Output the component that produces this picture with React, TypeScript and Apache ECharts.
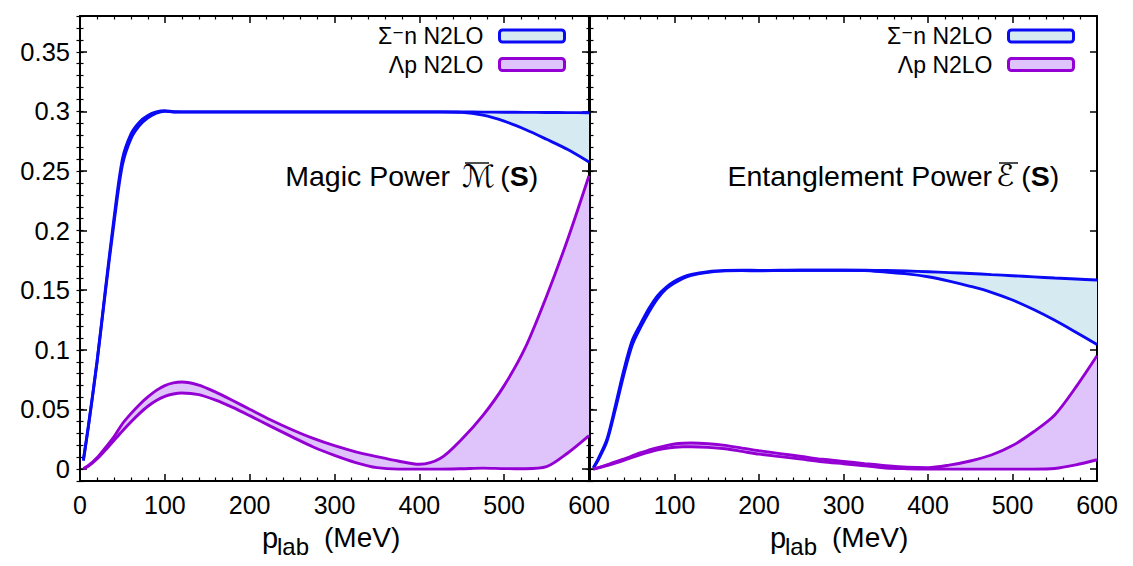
import React, { useEffect, useRef } from "react";
import * as echarts from "echarts";

const P_LAB = [4, 10, 20, 30, 40, 50, 60, 70, 80, 90, 100, 110, 120, 140, 160, 180, 200, 225, 250, 275, 300, 325, 350, 375, 400, 425, 450, 475, 500, 525, 550, 575, 600];

const SIGMA_MAGIC_LOW = [0.007, 0.036, 0.089, 0.149, 0.206, 0.255, 0.277, 0.288, 0.2945, 0.2985, 0.3, 0.2995, 0.2995, 0.2995, 0.2995, 0.2995, 0.2995, 0.2995, 0.2995, 0.2995, 0.2995, 0.2995, 0.2995, 0.2995, 0.2995, 0.2995, 0.2992, 0.2968, 0.2918, 0.2848, 0.2766, 0.268, 0.2575];
const SIGMA_MAGIC_HIGH = [0.008, 0.037, 0.09, 0.151, 0.21, 0.26, 0.281, 0.291, 0.2965, 0.2995, 0.3005, 0.2997, 0.2996, 0.2996, 0.2996, 0.2996, 0.2996, 0.2996, 0.2996, 0.2996, 0.2996, 0.2996, 0.2996, 0.2996, 0.2996, 0.2996, 0.2995, 0.2994, 0.2993, 0.2992, 0.2991, 0.299, 0.2988];

const LAMBDA_MAGIC_LOW = [0, 0.0025, 0.0085, 0.016, 0.024, 0.032, 0.0395, 0.0465, 0.0527, 0.0575, 0.061, 0.063, 0.0638, 0.0625, 0.0578, 0.0517, 0.0448, 0.0358, 0.027, 0.0185, 0.0115, 0.0055, 0.0012, 0, 0, 0, 0.0003, 0.0008, 0.0004, 0.0003, 0.002, 0.0135, 0.028];
const LAMBDA_MAGIC_HIGH = [0.0005, 0.003, 0.0095, 0.018, 0.027, 0.038, 0.0465, 0.054, 0.0605, 0.066, 0.07, 0.0723, 0.073, 0.0705, 0.0645, 0.0575, 0.0502, 0.0412, 0.033, 0.0257, 0.0196, 0.0145, 0.0105, 0.0068, 0.004, 0.009, 0.025, 0.045, 0.07, 0.102, 0.145, 0.193, 0.246];

const SIGMA_ENT_LOW = [0.001, 0.008, 0.023, 0.05, 0.079, 0.104, 0.119, 0.132, 0.143, 0.151, 0.156, 0.16, 0.1625, 0.165, 0.1662, 0.1665, 0.1663, 0.1665, 0.1667, 0.1667, 0.1667, 0.1666, 0.1652, 0.1637, 0.1613, 0.1577, 0.1533, 0.1483, 0.1418, 0.1338, 0.1248, 0.1148, 0.1045];
const SIGMA_ENT_HIGH = [0.001, 0.009, 0.025, 0.053, 0.083, 0.108, 0.122, 0.135, 0.1455, 0.1525, 0.1575, 0.161, 0.1633, 0.1655, 0.1665, 0.1668, 0.1666, 0.1667, 0.1668, 0.1668, 0.1668, 0.1667, 0.1665, 0.1661, 0.1655, 0.1648, 0.164, 0.1631, 0.1622, 0.1612, 0.1602, 0.1594, 0.1586];

const LAMBDA_ENT_LOW = [0, 0.001, 0.003, 0.005, 0.0072, 0.0098, 0.0122, 0.0143, 0.0162, 0.0175, 0.0183, 0.0187, 0.0187, 0.0182, 0.017, 0.0148, 0.0125, 0.0104, 0.0083, 0.0062, 0.0045, 0.0028, 0.0009, 0.0003, 0.0001, 0, 0, 0, 0, 0, 0.0005, 0.0035, 0.0078];
const LAMBDA_ENT_HIGH = [0, 0.0012, 0.0035, 0.006, 0.0083, 0.011, 0.0138, 0.016, 0.018, 0.0197, 0.021, 0.0217, 0.0219, 0.0213, 0.0199, 0.0176, 0.0154, 0.013, 0.0106, 0.0082, 0.0064, 0.0046, 0.0029, 0.0016, 0.0012, 0.0033, 0.0068, 0.0118, 0.0197, 0.0313, 0.0454, 0.0687, 0.095];

const Y_TICKS = [0, 0.05, 0.1, 0.15, 0.2, 0.25, 0.3, 0.35];
const X_TICK_STEP = 100;

const SIGMA_NAME = "Σ⁻n N2LO";
const LAMBDA_NAME = "Λp N2LO";

const FONT = '"Liberation Sans", Arial, Helvetica, "DejaVu Sans", sans-serif';
const BLUE = "#0a0af5";
const BLUE_FILL = "#d5ebf1";
const PURPLE = "#9400d3";
const PURPLE_FILL = "#dfc3fb";

// data rows are [value, p_lab]; encode maps column 1 to x so that stacking acts on y
function band(name: string, grid: number, low: number[], high: number[], stroke: string, fill: string, zBase: number) {
  const stack = `${name}-${grid}`;
  const common = {
    type: "line",
    name,
    xAxisIndex: grid * 2,
    yAxisIndex: grid * 4,
    stack,
    encode: { x: 1, y: 0 },
    symbol: "none",
    smooth: 0.3,
    lineStyle: { color: stroke, width: 2.9 },
    itemStyle: { color: stroke },
    emphasis: { disabled: true },
  };
  return [
    { ...common, z: zBase + 1, data: P_LAB.map((x, i) => [low[i], x]) },
    {
      ...common,
      z: zBase,
      data: P_LAB.map((x, i) => [Math.max(0, high[i] - low[i]), x]),
      areaStyle: { color: fill, opacity: 1 },
    },
  ];
}

function xAxes(grid: number) {
  const base = {
    gridIndex: grid,
    type: "value",
    min: 0,
    max: 600,
    interval: X_TICK_STEP,
    splitLine: { show: false },
    axisLine: { show: true, onZero: false, lineStyle: { color: "#000", width: 2 } },
    axisTick: { show: true, inside: true, length: 7, lineStyle: { color: "#000", width: 1.5 } },
    minorTick: { show: true, splitNumber: 5, length: 3.5, lineStyle: { color: "#000", width: 1.2 } },
  };
  return [
    {
      ...base,
      position: "bottom",
      axisLabel: {
        show: true,
        fontSize: 25,
        fontFamily: FONT,
        color: "#000",
        margin: 11,
        showMinLabel: grid === 0,
      },
    },
    { ...base, position: "top", axisLabel: { show: false } },
  ];
}

function yAxes(grid: number) {
  const base = {
    gridIndex: grid,
    type: "value",
    min: -0.01,
    max: 0.38,
    splitLine: { show: false },
  };
  const major = (pos: string, labels: boolean) => ({
    ...base,
    position: pos,
    axisLine: { show: true, onZero: false, lineStyle: { color: "#000", width: 2 } },
    axisTick: { show: true, inside: true, length: 7, customValues: Y_TICKS, lineStyle: { color: "#000", width: 1.5 } },
    axisLabel: {
      show: labels,
      customValues: Y_TICKS,
      fontSize: 25.5,
      fontFamily: FONT,
      color: "#000",
      margin: 10,
    },
  });
  const minor = (pos: string) => ({
    ...base,
    position: pos,
    interval: 0.01,
    axisLine: { show: false },
    axisTick: { show: true, inside: true, length: 3.5, lineStyle: { color: "#000", width: 1.2 } },
    axisLabel: { show: false },
  });
  return [major("left", grid === 0), minor("left"), major("right", false), minor("right")];
}

function legend(right: number) {
  return {
    orient: "vertical",
    right,
    top: 24.5,
    z: 20,
    padding: 0,
    align: "right",
    itemWidth: 65,
    itemHeight: 12,
    itemGap: 5.5,
    selectedMode: false,
    textStyle: { fontSize: 23, lineHeight: 22, fontFamily: FONT, color: "#000", padding: [0, 11, 0, 0] },
    data: [
      { name: SIGMA_NAME, icon: "roundRect", itemStyle: { color: BLUE_FILL, borderColor: BLUE, borderWidth: 3 } },
      { name: LAMBDA_NAME, icon: "roundRect", itemStyle: { color: PURPLE_FILL, borderColor: PURPLE, borderWidth: 3 } },
    ],
  };
}

function text(x: number, y: number, t: string, fontSize: number, align: string, extra: any = {}) {
  return {
    type: "text",
    x,
    y,
    silent: true,
    z: 100,
    style: {
      text: t,
      fill: "#000",
      fontSize,
      fontFamily: FONT,
      textAlign: align,
      textVerticalAlign: "middle",
      ...extra,
    },
  };
}

function overline(x1: number, x2: number, y: number) {
  return {
    type: "line",
    silent: true,
    z: 100,
    shape: { x1, y1: y, x2, y2: y },
    style: { stroke: "#000", lineWidth: 1.4 },
  };
}

function axisName(left: number) {
  return [
    text(left, 537.6, "p", 29, "left"),
    text(left + 15, 546.5, "lab", 24, "left"),
    text(left + 62, 537.6, "(MeV)", 28, "left"),
  ];
}

const SCRIPT_FONT = '"DejaVu Sans", serif';
const richTitle = {
  c: { fontFamily: SCRIPT_FONT, fontStyle: "italic", fontSize: 31, fill: "#000", padding: [0, 5, 0, 1] },
  e: { fontFamily: SCRIPT_FONT, fontStyle: "italic", fontSize: 30, fill: "#000", padding: [0, 7, 0, 1] },
  n: { fontFamily: FONT, fontSize: 28.5, fill: "#000" },
  b: { fontFamily: FONT, fontSize: 28.5, fontWeight: "bold", fill: "#000" },
};

export default function App() {
  const ref = useRef<HTMLDivElement>(null);
  useEffect(() => {
    document.body.style.margin = "0";
    if (!ref.current) return;
    const chart = echarts.init(ref.current, undefined, { renderer: "svg" });
    chart.setOption({
      animation: false,
      backgroundColor: "#fff",
      grid: [
        { left: 80, top: 16, width: 509, height: 465 },
        { left: 590, top: 16, width: 507, height: 465 },
      ],
      xAxis: [...xAxes(0), ...xAxes(1)],
      yAxis: [...yAxes(0), ...yAxes(1)],
      legend: [legend(1133 - 566), legend(1133 - 1075)],
      series: [
        ...band(SIGMA_NAME, 0, SIGMA_MAGIC_LOW, SIGMA_MAGIC_HIGH, BLUE, BLUE_FILL, 2),
        ...band(LAMBDA_NAME, 0, LAMBDA_MAGIC_LOW, LAMBDA_MAGIC_HIGH, PURPLE, PURPLE_FILL, 4),
        ...band(SIGMA_NAME, 1, SIGMA_ENT_LOW, SIGMA_ENT_HIGH, BLUE, BLUE_FILL, 2),
        ...band(LAMBDA_NAME, 1, LAMBDA_ENT_LOW, LAMBDA_ENT_HIGH, PURPLE, PURPLE_FILL, 4),
      ],
      graphic: [
        text(450, 175.5, "Magic Power", 28.5, "right"),
        text(461, 175.5, "{c|ℳ}{n|(}{b|S}{n|)}", 28.5, "left", { rich: richTitle }),
        overline(465, 489, 163),
        text(992, 175.5, "Entanglement Power", 28.5, "right"),
        text(995, 175.5, "{e|ℰ}{n|(}{b|S}{n|)}", 28.5, "left", { rich: richTitle }),
        overline(999, 1018, 163),
        ...axisName(262),
        ...axisName(770),
      ],
    });
    return () => chart.dispose();
  }, []);
  return <div ref={ref} style={{ width: 1133, height: 566 }} />;
}
